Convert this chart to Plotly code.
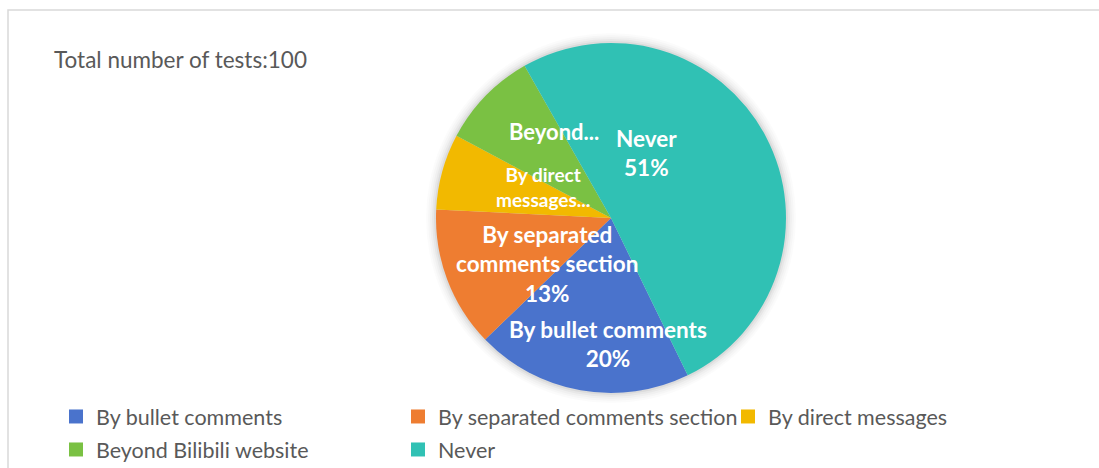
import plotly.graph_objects as go

categories = ["By bullet comments", "By separated comments section",
              "By direct messages", "Beyond Bilibili website", "Never"]
values = [20, 13, 7, 9, 51]
colors = ["#4A73CC", "#EE7D31", "#F2B900", "#7AC143", "#30C1B4"]
# data-label text as shown by the chart (Excel truncated two of them)
label_lines = [["By bullet comments"], ["By separated", "comments section"],
               ["By direct", "messages..."], ["Beyond..."], ["Never"]]
label_show_pct = [True, True, False, False, True]
label_sizes = [22.5, 22.5, 19, 22, 22.5]
# label centres in pixels (x, y from top)
label_pos = [(608, 344), (547, 264), (543, 187), (554, 131), (646, 153)]
# legend entry placement in pixels (left x, top y), Excel-style 3+2 layout
legend_pos = [(56, 396), (398, 396), (728, 396), (56, 429), (398, 429)]
title_text = "Total number of tests:100"

W, H = 1099, 468
cx, cy, R = 611, 218, 175
FONT = "Lato, Carlito, Calibri, sans-serif"
GREY = "#595959"

fig = go.Figure()
fig.add_trace(go.Pie(
    labels=categories, values=values, sort=False, direction="clockwise",
    rotation=154, textinfo="none", hoverinfo="label+percent", showlegend=False,
    marker=dict(colors=colors, line=dict(width=0)),
    domain=dict(x=[(cx - R) / W, (cx + R) / W], y=[1 - (cy + R) / H, 1 - (cy - R) / H]),
))

legends = {}
for i, (name, col, (lx, ly)) in enumerate(zip(categories, colors, legend_pos)):
    key = "legend" if i == 0 else f"legend{i + 1}"
    fig.add_trace(go.Scatter(
        x=[None], y=[None], mode="markers", name=name, hoverinfo="skip",
        marker=dict(symbol="square", size=14, color=col, line=dict(width=0)),
        legend=key, showlegend=True,
    ))
    legends[key] = dict(orientation="h", xanchor="left", yanchor="top",
                        x=lx / W, y=1 - ly / H,
                        font=dict(family=FONT, size=21.5, color=GREY),
                        bgcolor="rgba(0,0,0,0)")

shapes = []
# chart-area border (top & left visible)
shapes.append(dict(type="rect", xref="paper", yref="paper", x0=8 / W, x1=1.05, y0=-0.05, y1=1 - 10 / H,
                   line=dict(color="#D9D9D9", width=1.5), fillcolor="rgba(0,0,0,0)", layer="below"))
# soft shadow around the pie
for k, a in [(10, 0.015), (8, 0.02), (6, 0.025), (4, 0.035), (2, 0.05)]:
    shapes.append(dict(type="circle", xref="paper", yref="paper",
                       x0=(cx - R - k) / W, x1=(cx + R + k) / W,
                       y0=1 - (cy + R + k) / H, y1=1 - (cy - R - k) / H,
                       line=dict(width=0), fillcolor=f"rgba(0,0,0,{a})", layer="below"))

annotations = [dict(text=title_text, xref="paper", yref="paper", x=52 / W, y=1 - 60 / H,
                    xanchor="left", yanchor="middle", showarrow=False,
                    font=dict(family=FONT, size=22.5, color=GREY))]
for lines, pct, v, sz, (px, py) in zip(label_lines, label_show_pct, values, label_sizes, label_pos):
    t = "<br>".join(lines + ([f"{v / sum(values) * 100:.0f}%"] if pct else []))
    annotations.append(dict(text=t, xref="paper", yref="paper", x=px / W, y=1 - py / H,
                            xanchor="center", yanchor="middle", showarrow=False,
                            font=dict(family=FONT, size=sz, color="white", weight="bold")))

fig.update_layout(
    width=W, height=H, margin=dict(l=0, r=0, t=0, b=0, autoexpand=False),
    paper_bgcolor="white", plot_bgcolor="rgba(0,0,0,0)",
    xaxis=dict(visible=False), yaxis=dict(visible=False),
    shapes=shapes, annotations=annotations,
    showlegend=True,
    **legends,
)
fig.write_html("out.html")
